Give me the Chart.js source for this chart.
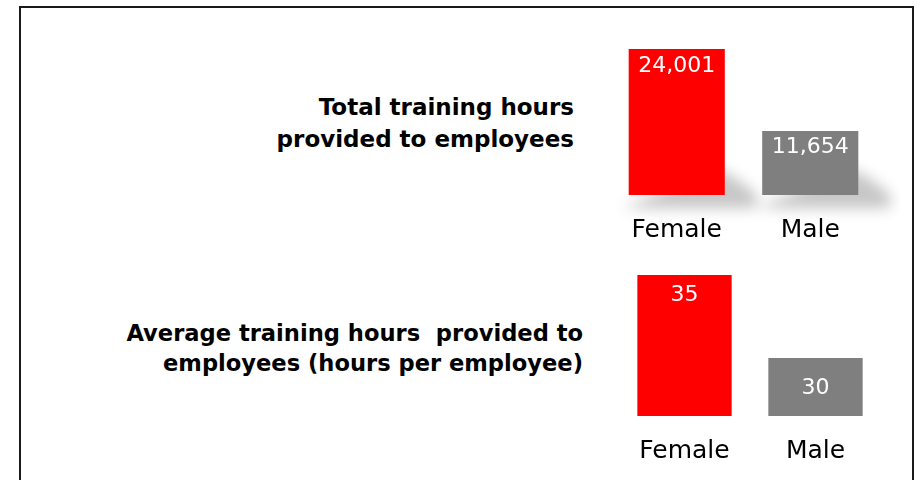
<!DOCTYPE html>
<html>
<head>
<meta charset="utf-8">
<script src="https://cdn.jsdelivr.net/npm/chart.js@4.4.1/dist/chart.umd.min.js"></script>
<style>
  body{margin:0;background:#fff;width:920px;height:480px;overflow:hidden;position:relative;font-family:"DejaVu Sans",sans-serif;}
  #frame{position:absolute;left:19px;top:6px;width:891px;height:500px;border:2px solid #1a1a1a;border-bottom:none;}
  .title{position:absolute;width:540px;text-align:right;font-weight:bold;color:#000;white-space:pre;}
  canvas{position:absolute;}
</style>
</head>
<body>
<div id="frame"></div>
<div class="title" id="t1" style="left:34px;top:91px;font-size:23px;line-height:32px;"></div>
<div class="title" id="t2" style="left:43px;top:318px;font-size:22.6px;line-height:30px;"></div>
<canvas id="c1" width="300" height="252" style="left:600px;top:20px;"></canvas>
<canvas id="c2" width="300" height="252" style="left:600px;top:250px;"></canvas>
<script>
var categories=["Female","Male"];
var totalHours=[24001,11654];
var avgHours=[35,30];
var titleTotal=["Total training hours","provided to employees"];
var titleAvg=["Average training hours  provided to","employees (hours per employee)"];
var barColors=["#ff0000","#7f7f7f"];

document.getElementById('t1').textContent=titleTotal.join("\n");
document.getElementById('t2').textContent=titleAvg.join("\n");

// soft shadow at the foot of each bar
var footShadow={
  id:'footShadow',
  beforeDatasetsDraw:function(chart){
    var ctx=chart.ctx;
    chart.getDatasetMeta(0).data.forEach(function(bar){
      var p=bar.getProps(['x','y','base','width'],true);
      var l=p.x-p.width/2, r=p.x+p.width/2;
      ctx.save();
      ctx.filter='blur(7px)';
      ctx.fillStyle='rgba(0,0,0,0.22)';
      ctx.beginPath();
      ctx.moveTo(l-6,p.base);
      ctx.lineTo(r-10,p.base-40);
      ctx.lineTo(r+8,p.base-32);
      ctx.lineTo(r+32,p.base-14);
      ctx.lineTo(r+32,p.base);
      ctx.closePath();
      ctx.fill();
      ctx.restore();
    });
  }
};

// value written inside the top of each bar
var valueLabels={
  id:'valueLabels',
  afterDatasetsDraw:function(chart,args,opts){
    var ctx=chart.ctx;
    var ds=chart.data.datasets[0];
    chart.getDatasetMeta(0).data.forEach(function(bar,i){
      ctx.save();
      ctx.fillStyle='#fff';
      ctx.font='22px "DejaVu Sans"';
      ctx.textAlign='center';
      ctx.textBaseline='middle';
      ctx.fillText(ds.data[i].toLocaleString('en-US'),bar.x,bar.y+opts.offsets[i]);
      ctx.restore();
    });
  }
};

function makeChart(id,values,yMin,yMax,pad,offsets){
  return new Chart(document.getElementById(id),{
    type:'bar',
    data:{
      labels:categories,
      datasets:[{data:values,backgroundColor:barColors,borderWidth:0,barPercentage:0.72,categoryPercentage:1}]
    },
    options:{
      responsive:false,
      animation:false,
      layout:{padding:pad},
      plugins:{legend:{display:false},tooltip:{enabled:false},valueLabels:{offsets:offsets}},
      scales:{
        x:{grid:{display:false,drawTicks:false},border:{display:false},
           ticks:{color:'#000',padding:20,font:{family:'DejaVu Sans',size:25}}},
        y:{display:false,min:yMin,max:yMax}
      }
    },
    plugins:[footShadow,valueLabels]
  });
}

makeChart('c1',totalHours,2000,24001,{left:10,right:23,top:29,bottom:7},[17,16]);
makeChart('c2',avgHours,26.5,35,{left:19,right:19,top:25,bottom:16},[20,30]);
</script>
</body>
</html>
